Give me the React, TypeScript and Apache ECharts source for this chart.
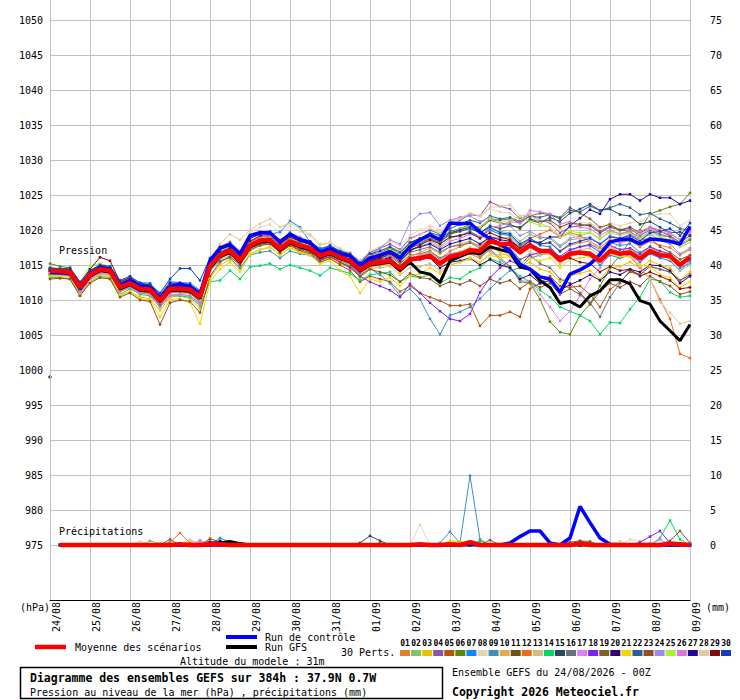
import React, { useEffect, useRef } from "react";
import * as echarts from "echarts";

const STEP_H = 6;
const dayLabels = ["24/08","25/08","26/08","27/08","28/08","29/08","30/08","31/08","01/09","02/09","03/09","04/09","05/09","06/09","07/09","08/09","09/09"];
const memberNames = ["01","02","03","04","05","06","07","08","09","10","11","12","13","14","15","16","17","18","19","20","21","22","23","24","25","26","27","28","29","30"];
const memberColors = ["#e67e30","#7dc46b","#f0c000","#8e54a8","#b5540c","#5a8a0a","#0a86ff","#e8d5b0","#3a90c0","#e8a850","#6b5218","#f26b1d","#d0c080","#00d860","#284860","#687078","#e080f0","#8020f0","#806030","#300070","#f0d800","#2a6098","#905020","#a088f0","#a8f030","#d878d8","#2008a0","#e0c8a0","#880808","#1040c0"];

// Sea-level pressure (hPa), one value every 6 h from 24/08 00Z to 09/09 00Z
const pMean = [1014.2,1014.1,1014.0,1011.8,1013.6,1014.4,1014.2,1011.8,1012.4,1011.6,1011.5,1009.9,1011.6,1011.6,1011.5,1010.4,1014.9,1016.4,1017.0,1015.6,1017.8,1018.5,1018.6,1017.3,1018.4,1017.8,1017.4,1016.3,1016.8,1016.1,1015.6,1014.3,1015.2,1015.4,1015.6,1014.5,1015.8,1016.0,1016.3,1015.2,1016.2,1016.5,1017.1,1017.0,1018.4,1018.0,1018.0,1016.8,1017.8,1017.0,1017.0,1015.7,1016.6,1016.8,1016.6,1015.6,1017.0,1016.6,1016.8,1015.9,1017.0,1016.4,1016.3,1015.0,1016.1];
const pControl = [1014.0,1013.9,1013.8,1011.6,1013.4,1014.6,1014.4,1012.0,1012.8,1012.0,1011.8,1010.2,1011.9,1012.2,1011.9,1010.8,1015.6,1017.4,1017.9,1016.6,1019.2,1019.6,1019.6,1018.3,1019.4,1018.6,1018.2,1016.8,1017.3,1016.6,1016.3,1014.9,1016.0,1016.4,1016.9,1016.0,1017.6,1018.6,1019.3,1018.6,1021.0,1020.9,1021.0,1019.7,1018.7,1018.0,1017.0,1015.1,1014.4,1013.3,1013.0,1011.1,1013.7,1014.3,1015.1,1016.5,1018.3,1018.6,1018.7,1018.0,1018.7,1018.6,1018.4,1018.0,1020.5];
const pGfs = [1014.0,1014.0,1013.9,1011.6,1013.4,1014.2,1014.0,1011.6,1012.2,1011.4,1011.3,1009.8,1011.4,1011.4,1011.3,1010.2,1014.6,1016.2,1016.8,1015.4,1017.6,1018.3,1018.4,1017.1,1018.2,1017.6,1017.2,1016.1,1016.6,1015.9,1015.4,1014.1,1015.0,1015.2,1015.4,1014.2,1015.4,1014.0,1013.7,1012.5,1015.6,1016.2,1016.8,1016.6,1017.6,1017.2,1016.8,1014.7,1014.4,1012.8,1011.8,1009.5,1009.8,1009.0,1010.6,1011.3,1012.9,1012.9,1012.3,1009.9,1009.4,1007.0,1005.6,1004.2,1006.5];

const p01 = [1013.9,1013.8,1013.9,1011.3,1013.2,1014.0,1013.9,1011.5,1012.0,1011.2,1011.0,1009.2,1011.0,1011.3,1011.0,1009.8,1014.3,1016.0,1016.8,1015.0,1017.4,1018.0,1018.3,1017.0,1018.0,1017.5,1017.0,1016.0,1016.4,1015.8,1015.2,1013.8,1014.8,1015.0,1015.3,1014.0,1015.6,1016.2,1016.8,1015.9,1017.0,1017.6,1018.2,1017.8,1019.0,1018.8,1018.9,1017.5,1018.5,1018.0,1018.2,1016.9,1017.8,1018.2,1018.4,1017.5,1018.6,1018.2,1018.5,1017.6,1018.4,1017.8,1017.5,1016.4,1017.2];
const p02 = [1013.6,1013.5,1013.4,1011.0,1012.9,1013.6,1013.5,1011.2,1011.8,1011.0,1010.9,1009.4,1011.1,1011.0,1010.9,1009.9,1014.2,1015.8,1016.3,1015.0,1017.0,1017.8,1018.0,1016.8,1017.8,1017.3,1017.1,1016.4,1017.2,1016.8,1016.4,1015.2,1016.2,1016.6,1017.0,1016.0,1017.4,1018.0,1018.5,1017.6,1018.8,1019.2,1019.6,1019.0,1020.2,1019.8,1019.6,1018.4,1019.4,1018.8,1019.0,1017.8,1018.8,1019.2,1019.6,1018.7,1019.8,1019.5,1019.8,1018.9,1019.8,1019.2,1019.0,1018.0,1018.8];
const p03 = [1013.4,1013.2,1013.0,1010.8,1012.6,1013.2,1013.0,1010.6,1011.2,1010.4,1010.2,1008.5,1010.4,1010.6,1010.2,1008.8,1013.2,1015.0,1015.8,1014.4,1016.6,1017.2,1017.5,1016.4,1017.5,1016.9,1016.6,1015.4,1016.0,1015.2,1014.8,1013.2,1014.4,1014.8,1015.2,1014.0,1015.6,1016.0,1016.6,1015.4,1016.4,1016.9,1017.5,1016.6,1017.8,1016.8,1016.2,1014.6,1015.4,1014.4,1014.0,1012.6,1013.4,1013.8,1014.2,1013.0,1014.6,1014.8,1015.4,1014.6,1015.6,1015.0,1014.6,1012.8,1014.0];
const p04 = [1014.5,1014.4,1014.3,1012.2,1014.0,1014.9,1014.6,1012.3,1012.9,1012.0,1011.9,1010.4,1012.0,1012.1,1011.9,1010.9,1015.4,1017.0,1017.6,1016.2,1018.4,1019.0,1019.2,1017.9,1019.0,1018.4,1018.0,1017.0,1017.6,1017.0,1016.6,1015.6,1016.8,1017.4,1018.0,1017.2,1018.8,1019.4,1020.0,1019.4,1020.6,1021.4,1022.2,1022.0,1024.0,1023.4,1023.0,1021.6,1022.2,1021.4,1021.0,1019.6,1020.4,1020.6,1020.8,1019.8,1020.6,1020.0,1020.2,1019.2,1020.0,1019.4,1019.0,1017.8,1018.6];
const p05 = [1013.9,1013.8,1013.6,1011.4,1013.2,1013.9,1013.8,1011.4,1012.0,1011.2,1011.0,1009.3,1011.2,1011.3,1011.0,1009.8,1014.5,1016.0,1016.6,1015.2,1017.4,1018.0,1018.2,1016.8,1017.8,1017.0,1016.6,1015.4,1015.9,1015.0,1014.2,1012.6,1013.4,1013.0,1012.6,1011.2,1012.0,1011.0,1010.4,1009.9,1009.2,1009.2,1009.4,1006.3,1007.8,1007.8,1008.3,1007.6,1011.6,1012.4,1013.4,1012.0,1011.8,1012.0,1010.8,1009.0,1011.5,1012.6,1014.0,1013.6,1014.8,1014.4,1014.0,1012.8,1013.6];
const p06 = [1015.2,1014.8,1014.6,1012.4,1014.2,1015.0,1014.8,1012.4,1013.0,1012.2,1012.0,1010.5,1012.2,1012.2,1012.0,1011.0,1015.4,1016.8,1017.2,1015.8,1018.0,1018.6,1018.8,1017.6,1018.6,1018.0,1017.8,1016.8,1017.4,1016.6,1016.0,1014.6,1015.4,1015.8,1016.2,1015.2,1016.4,1016.6,1017.0,1016.0,1016.6,1016.8,1017.0,1016.2,1017.2,1016.0,1014.8,1012.6,1012.4,1010.1,1006.9,1005.4,1005.1,1007.8,1009.4,1012.0,1014.6,1016.4,1018.4,1020.0,1022.3,1022.8,1023.3,1023.7,1025.3];
const p07 = [1014.6,1014.5,1014.4,1012.4,1014.2,1015.0,1014.8,1012.6,1013.2,1012.5,1012.4,1010.8,1012.6,1012.5,1012.4,1011.4,1015.8,1017.4,1018.0,1016.6,1019.0,1019.8,1019.4,1019.7,1021.3,1020.4,1018.3,1017.4,1017.6,1017.0,1016.6,1015.0,1016.0,1016.4,1017.0,1016.2,1017.6,1018.2,1018.8,1018.0,1019.0,1019.2,1019.8,1019.0,1020.0,1019.4,1019.2,1017.8,1018.6,1017.8,1017.6,1016.0,1016.8,1016.6,1016.2,1015.0,1016.4,1016.0,1016.4,1015.4,1016.6,1016.0,1015.6,1014.2,1015.6];
const p08 = [1014.0,1013.9,1013.8,1011.6,1013.6,1014.4,1014.3,1011.8,1012.6,1011.8,1011.8,1010.2,1011.8,1011.9,1011.8,1010.6,1015.8,1017.6,1018.4,1017.0,1019.6,1020.4,1020.8,1019.4,1020.6,1019.8,1019.2,1017.8,1018.2,1017.4,1016.8,1015.6,1017.0,1017.6,1018.4,1017.8,1019.2,1020.0,1020.6,1020.0,1021.2,1021.8,1022.4,1022.0,1023.0,1022.6,1022.4,1021.4,1022.0,1021.4,1021.2,1020.0,1020.8,1021.0,1021.0,1020.2,1021.0,1020.6,1021.0,1021.2,1022.0,1022.3,1022.3,1020.6,1021.4];
const p09 = [1014.2,1014.3,1014.0,1011.0,1012.8,1014.0,1014.2,1011.8,1012.4,1011.4,1011.4,1009.6,1011.6,1011.4,1011.2,1010.0,1014.2,1015.6,1016.0,1014.6,1016.4,1016.8,1017.0,1016.0,1017.0,1016.6,1016.4,1015.6,1016.2,1015.6,1015.0,1013.6,1014.5,1013.6,1012.4,1010.6,1011.6,1010.1,1007.3,1005.1,1007.8,1008.3,1009.0,1010.2,1011.6,1013.0,1014.2,1014.6,1016.0,1016.4,1016.8,1015.8,1017.0,1017.6,1018.0,1017.2,1018.2,1017.8,1018.0,1016.8,1017.6,1016.8,1016.0,1014.6,1015.2];
const p10 = [1013.8,1013.7,1013.6,1011.4,1013.3,1014.2,1014.0,1011.6,1012.2,1011.4,1011.2,1009.6,1011.2,1011.2,1011.0,1009.8,1014.6,1016.2,1016.9,1015.4,1017.6,1018.4,1018.5,1017.0,1018.2,1017.6,1017.2,1016.0,1016.6,1016.0,1015.4,1014.0,1015.0,1015.4,1015.8,1014.8,1016.2,1016.8,1017.4,1016.6,1017.6,1018.0,1018.4,1017.6,1018.8,1018.2,1018.0,1016.6,1017.6,1016.8,1016.6,1015.2,1016.2,1016.6,1016.8,1015.8,1017.2,1016.8,1017.2,1016.4,1017.4,1016.8,1016.6,1015.2,1016.4];
const p11 = [1014.4,1014.3,1014.2,1012.0,1013.9,1014.8,1014.6,1012.1,1012.8,1012.0,1011.9,1010.3,1012.0,1012.0,1011.9,1010.8,1015.2,1016.8,1017.4,1016.0,1018.2,1019.0,1019.1,1017.7,1018.8,1018.2,1017.8,1016.8,1017.4,1016.8,1016.4,1015.2,1016.4,1016.8,1017.4,1016.6,1018.2,1018.8,1019.4,1018.8,1019.8,1020.2,1020.8,1020.2,1021.4,1021.0,1020.8,1020.2,1021.6,1021.2,1021.4,1020.4,1021.0,1020.8,1020.6,1019.6,1020.4,1020.0,1020.4,1019.6,1020.4,1019.8,1019.2,1018.2,1019.2];
const p12 = [1014.0,1014.0,1013.8,1011.6,1013.4,1014.2,1014.0,1011.6,1012.2,1011.5,1011.4,1009.8,1011.4,1011.4,1011.2,1010.2,1014.8,1016.2,1016.8,1015.4,1017.6,1018.2,1018.4,1017.1,1018.2,1017.6,1017.2,1016.1,1016.6,1015.9,1015.3,1014.0,1014.8,1015.0,1015.4,1014.4,1015.6,1015.8,1016.2,1015.0,1015.8,1016.2,1016.6,1016.0,1017.2,1017.6,1018.4,1017.6,1018.8,1019.4,1020.0,1019.0,1019.6,1019.2,1018.4,1017.2,1017.6,1016.8,1016.2,1014.6,1013.0,1010.1,1007.3,1002.3,1001.7];
const p13 = [1013.7,1013.6,1013.5,1011.2,1013.0,1013.9,1013.8,1011.4,1012.0,1011.2,1011.1,1009.4,1011.1,1011.1,1010.9,1009.7,1014.4,1016.0,1016.7,1015.2,1017.4,1018.1,1018.3,1016.9,1018.0,1017.4,1017.0,1015.9,1016.4,1015.7,1015.1,1013.8,1014.6,1014.6,1014.8,1013.6,1014.6,1014.8,1015.2,1014.2,1015.0,1015.4,1015.8,1015.4,1016.6,1016.4,1016.6,1015.6,1016.8,1016.4,1016.6,1015.6,1016.8,1017.2,1017.4,1016.4,1017.6,1017.2,1017.4,1016.4,1017.2,1016.4,1015.8,1014.2,1015.0];
const p14 = [1013.2,1013.2,1013.0,1010.6,1012.6,1013.4,1013.2,1010.8,1011.6,1010.8,1010.6,1009.0,1010.6,1010.6,1010.4,1009.2,1012.6,1012.8,1014.2,1013.0,1014.7,1014.9,1015.2,1014.4,1015.0,1014.6,1014.2,1013.5,1014.6,1014.2,1013.8,1012.8,1013.6,1013.8,1014.0,1012.6,1013.4,1013.2,1013.6,1012.4,1013.2,1013.0,1014.0,1014.6,1015.9,1015.4,1014.6,1013.4,1012.6,1011.4,1010.4,1009.0,1008.4,1007.8,1007.0,1005.1,1006.8,1006.7,1008.7,1010.4,1013.0,1012.7,1011.1,1010.4,1010.6];
const p15 = [1014.6,1014.4,1014.2,1012.0,1013.8,1014.6,1014.5,1012.2,1012.8,1012.0,1011.9,1010.4,1012.2,1012.3,1012.0,1010.9,1015.3,1016.9,1017.5,1016.1,1018.3,1019.0,1019.2,1017.8,1019.0,1018.3,1017.9,1016.8,1017.4,1016.6,1016.1,1014.8,1016.0,1016.6,1017.2,1016.4,1017.8,1018.4,1019.0,1018.4,1019.4,1019.8,1020.2,1019.6,1020.6,1020.2,1020.6,1020.4,1021.4,1021.0,1021.8,1021.2,1022.4,1023.0,1023.7,1022.8,1023.0,1022.2,1022.0,1020.8,1021.2,1020.4,1019.6,1019.7,1019.2];
const p16 = [1014.0,1013.9,1013.8,1011.8,1013.6,1014.4,1014.2,1011.9,1012.6,1011.9,1011.8,1010.2,1011.9,1011.9,1011.8,1010.7,1015.0,1016.5,1017.0,1015.6,1017.8,1018.5,1018.7,1017.4,1018.6,1018.0,1017.6,1016.6,1017.2,1016.4,1016.0,1014.6,1015.6,1016.0,1016.4,1015.4,1016.8,1017.2,1017.6,1016.8,1017.6,1017.8,1018.2,1017.4,1018.4,1017.8,1017.4,1015.8,1016.4,1015.2,1014.6,1013.0,1012.4,1011.0,1009.6,1007.6,1010.4,1012.4,1014.2,1013.6,1014.8,1014.4,1014.0,1012.8,1013.6];
const p17 = [1013.6,1013.6,1013.4,1011.0,1012.8,1013.8,1013.6,1011.2,1011.8,1011.0,1010.8,1009.2,1010.8,1010.8,1010.6,1009.4,1014.6,1016.8,1018.0,1017.0,1019.4,1019.8,1019.8,1018.6,1019.6,1019.0,1018.4,1017.2,1017.4,1016.6,1015.8,1014.4,1015.0,1015.4,1015.8,1014.6,1016.0,1016.4,1016.8,1015.8,1016.6,1016.8,1017.2,1016.4,1017.0,1015.8,1014.6,1012.8,1012.6,1010.8,1009.0,1007.0,1008.4,1010.6,1013.0,1014.6,1017.0,1018.2,1019.0,1019.4,1020.2,1019.8,1019.4,1018.6,1019.6];
const p18 = [1014.2,1014.0,1013.9,1011.6,1013.4,1014.2,1014.0,1011.6,1012.2,1011.4,1011.3,1009.7,1011.4,1011.4,1011.3,1010.2,1014.7,1016.2,1016.8,1015.4,1017.6,1018.2,1018.3,1016.9,1018.0,1017.4,1017.0,1015.8,1016.2,1015.4,1014.6,1013.4,1012.6,1012.0,1011.4,1010.4,1012.3,1011.0,1009.6,1008.4,1007.3,1007.0,1008.0,1011.1,1013.2,1014.6,1015.6,1015.0,1016.4,1016.8,1017.2,1016.2,1017.2,1017.6,1017.8,1016.8,1017.8,1017.2,1017.4,1016.6,1017.6,1017.0,1016.6,1015.0,1016.0];
const p19 = [1013.6,1013.7,1013.5,1011.4,1013.2,1014.0,1013.9,1011.4,1012.0,1011.2,1011.1,1009.3,1011.1,1011.2,1011.0,1009.8,1014.5,1016.2,1016.9,1015.4,1017.6,1018.4,1018.6,1017.2,1018.4,1017.8,1017.4,1016.4,1016.9,1016.2,1015.6,1014.4,1015.6,1016.2,1016.8,1016.0,1017.4,1018.0,1018.8,1018.2,1019.4,1020.0,1020.6,1020.4,1021.6,1021.4,1021.6,1021.0,1022.0,1022.4,1022.2,1021.8,1023.2,1022.4,1021.6,1020.4,1020.8,1020.0,1019.8,1018.6,1018.8,1017.6,1016.8,1015.8,1016.4];
const p20 = [1014.4,1014.2,1014.1,1011.9,1013.7,1014.6,1014.4,1012.0,1012.7,1011.9,1011.8,1010.2,1011.9,1012.0,1011.8,1010.7,1015.1,1016.6,1017.2,1015.8,1018.0,1018.6,1018.8,1017.5,1018.6,1018.0,1017.6,1016.5,1017.0,1016.3,1015.8,1014.5,1015.6,1015.8,1016.0,1014.8,1016.0,1015.8,1016.0,1014.6,1015.4,1015.6,1016.0,1015.0,1015.8,1015.0,1014.6,1013.0,1013.6,1012.4,1012.8,1011.4,1012.2,1012.8,1013.6,1012.8,1014.0,1013.6,1014.4,1014.0,1015.0,1014.9,1014.2,1012.4,1013.4];
const p21 = [1013.4,1013.4,1013.2,1010.8,1012.6,1013.4,1013.4,1010.8,1011.2,1010.2,1010.0,1007.6,1010.0,1010.2,1009.6,1006.6,1012.6,1014.4,1015.4,1014.0,1016.4,1017.2,1017.6,1016.4,1017.4,1016.8,1016.4,1015.2,1015.6,1014.2,1013.4,1011.0,1013.0,1012.6,1013.2,1012.0,1013.4,1013.8,1014.6,1013.8,1015.0,1015.4,1016.0,1015.4,1016.4,1016.0,1016.2,1015.2,1016.0,1015.6,1016.0,1014.6,1015.8,1016.0,1016.2,1015.4,1016.6,1016.2,1016.2,1015.0,1014.8,1013.6,1013.2,1011.8,1012.6];
const p22 = [1014.0,1014.2,1014.0,1011.6,1013.4,1014.2,1014.1,1011.7,1012.4,1011.6,1011.5,1009.8,1011.5,1011.6,1011.4,1010.2,1014.6,1016.2,1016.8,1015.4,1017.4,1018.0,1018.2,1017.0,1018.0,1017.4,1017.0,1016.0,1016.6,1015.9,1015.4,1013.9,1015.8,1016.4,1017.0,1016.4,1018.0,1018.8,1019.6,1019.2,1020.2,1020.8,1021.4,1021.0,1022.0,1021.6,1021.8,1021.2,1022.0,1021.8,1022.2,1021.6,1022.8,1022.6,1023.4,1022.8,1023.2,1023.7,1023.2,1022.2,1022.4,1021.6,1021.0,1020.2,1020.0];
const p23 = [1013.0,1013.1,1013.0,1010.6,1012.4,1013.2,1013.0,1010.4,1011.0,1010.0,1009.8,1006.5,1009.6,1010.0,1009.8,1008.2,1013.4,1015.4,1016.2,1015.0,1017.2,1017.8,1018.0,1016.8,1017.8,1017.2,1016.8,1015.6,1016.2,1015.4,1014.8,1013.4,1014.4,1014.0,1013.6,1012.6,1013.8,1013.2,1013.0,1012.0,1012.6,1012.2,1012.8,1012.0,1013.0,1012.4,1012.8,1011.6,1012.6,1011.8,1012.4,1010.8,1011.6,1010.8,1009.4,1011.2,1012.4,1011.8,1012.6,1012.0,1013.4,1012.6,1012.0,1010.8,1011.2];
const p24 = [1014.2,1014.0,1014.0,1011.8,1013.6,1014.4,1014.2,1011.8,1012.4,1011.6,1011.5,1010.0,1011.6,1011.6,1011.6,1010.6,1015.0,1016.6,1017.2,1015.8,1018.0,1018.6,1018.8,1017.4,1018.6,1017.9,1017.5,1016.5,1017.0,1016.4,1016.0,1014.8,1016.4,1017.4,1018.6,1018.0,1021.1,1022.3,1022.5,1020.6,1021.4,1021.8,1022.0,1021.2,1021.8,1021.0,1020.6,1019.2,1019.8,1019.0,1018.8,1017.6,1018.6,1018.8,1019.0,1018.0,1019.2,1018.8,1019.4,1018.6,1019.4,1018.6,1018.0,1016.6,1017.4];
const p25 = [1014.4,1014.3,1014.3,1012.3,1014.9,1015.2,1014.8,1012.2,1012.8,1012.0,1011.9,1010.4,1012.0,1012.1,1011.8,1010.8,1015.4,1017.0,1017.6,1016.0,1018.2,1018.8,1019.0,1017.7,1018.8,1018.2,1017.8,1016.8,1017.3,1016.6,1016.1,1014.9,1016.2,1016.6,1017.2,1016.6,1018.0,1018.4,1019.0,1018.6,1019.6,1020.2,1020.6,1020.4,1021.6,1021.0,1021.4,1022.0,1021.2,1020.6,1020.4,1019.2,1019.8,1019.6,1019.6,1018.8,1019.6,1019.2,1019.6,1018.8,1019.6,1019.0,1018.6,1017.6,1018.2];
const p26 = [1014.0,1013.9,1013.8,1011.2,1013.2,1014.0,1013.8,1011.2,1011.8,1011.0,1010.8,1009.0,1010.6,1010.8,1010.6,1009.6,1014.8,1016.8,1017.6,1016.2,1018.4,1019.0,1019.2,1017.8,1019.0,1018.2,1017.6,1016.2,1016.8,1016.0,1015.4,1014.0,1015.0,1015.6,1016.4,1015.6,1017.0,1017.6,1018.2,1017.4,1018.4,1018.8,1019.4,1019.0,1020.4,1020.6,1021.2,1021.0,1022.8,1022.6,1022.3,1020.8,1021.2,1020.4,1020.2,1019.2,1020.0,1019.4,1019.8,1019.8,1020.4,1020.0,1019.6,1018.6,1019.8];
const p27 = [1014.2,1014.2,1014.2,1012.2,1014.0,1014.8,1014.6,1012.4,1013.0,1012.2,1012.2,1010.6,1012.4,1012.4,1012.2,1011.2,1015.6,1017.2,1017.8,1016.4,1018.8,1019.4,1019.6,1018.2,1019.4,1018.6,1018.2,1017.0,1017.6,1016.8,1016.4,1015.0,1015.8,1016.2,1016.8,1016.0,1017.2,1017.6,1018.0,1017.2,1018.0,1018.4,1018.8,1018.0,1019.0,1018.6,1018.4,1017.4,1018.4,1018.2,1019.0,1019.0,1020.6,1021.7,1022.9,1022.3,1024.4,1025.1,1025.1,1024.2,1025.1,1024.6,1024.6,1023.7,1024.2];
const p28 = [1014.0,1014.0,1013.8,1011.6,1013.4,1014.2,1014.0,1011.6,1012.4,1011.8,1011.6,1010.0,1011.6,1011.6,1011.4,1010.0,1015.8,1018.0,1019.4,1018.6,1020.0,1020.9,1021.6,1020.4,1021.0,1020.2,1019.4,1018.0,1018.2,1017.2,1016.6,1015.0,1016.2,1016.8,1017.6,1017.0,1018.6,1019.4,1020.2,1019.6,1021.0,1021.6,1022.4,1022.0,1023.2,1023.4,1023.6,1022.0,1022.2,1021.0,1020.4,1019.0,1019.4,1018.8,1018.4,1017.2,1017.6,1016.8,1016.4,1014.8,1013.0,1009.7,1008.2,1006.6,1007.0];
const p29 = [1014.2,1014.4,1014.4,1012.4,1014.4,1016.1,1015.6,1012.6,1013.2,1012.2,1012.0,1010.2,1011.8,1012.0,1011.8,1010.6,1015.2,1016.8,1017.4,1016.2,1018.4,1019.2,1019.4,1018.0,1019.0,1018.4,1018.0,1016.8,1017.2,1016.4,1015.8,1014.6,1015.6,1016.0,1016.6,1015.6,1017.0,1017.8,1018.6,1018.0,1019.0,1019.2,1019.6,1018.8,1019.6,1019.0,1018.6,1017.4,1018.0,1017.2,1017.0,1015.6,1016.0,1015.4,1015.2,1014.0,1014.8,1014.2,1014.4,1013.4,1014.0,1013.4,1012.8,1011.6,1011.8];
const p30 = [1014.4,1014.4,1014.6,1012.6,1014.2,1015.0,1014.8,1012.8,1013.4,1012.4,1012.2,1011.0,1013.0,1014.5,1014.5,1012.8,1016.0,1017.6,1018.2,1016.8,1019.0,1019.6,1019.8,1018.4,1019.6,1018.8,1018.4,1017.2,1017.8,1017.0,1016.6,1015.4,1016.6,1017.0,1017.6,1016.8,1018.2,1018.8,1019.4,1018.6,1019.6,1020.0,1020.4,1019.6,1020.4,1019.6,1019.4,1018.0,1018.8,1018.0,1018.2,1017.0,1018.0,1018.4,1018.8,1018.0,1019.0,1018.8,1019.2,1018.4,1019.6,1019.8,1020.2,1019.2,1021.0];

// 6-hour precipitation (mm), from 24/08 06Z to 09/09 00Z
const rMean = [0,0,0,0,0,0,0,0,0,0,0,0,0.1,0,0,0.1, 0.1,0,0,0,0,0,0,0,0,0,0,0,0,0,0,0, 0,0,0,0,0.1,0,0,0.1,0,0.4,0,0,0,0,0,0, 0,0,0,0,0.2,0,0,0,0,0,0,0,0,0.2,0.1,0];
const rControl = [0,0,0,0,0,0,0,0,0,0,0,0,0,0,0,0, 0,0,0,0,0,0,0,0,0,0,0,0,0,0,0,0, 0,0,0,0,0,0,0,0,0,0.2,0,0,0,0.3,1.2,2.0, 2.0,0.3,0,1.0,5.5,3.2,1.0,0.1,0,0,0,0,0,0,0,0];
const rGfs = [0,0,0,0,0,0,0,0,0,0,0,0,0,0,0,0, 0.3,0.5,0.2,0,0,0,0,0,0,0,0,0,0,0,0,0, 0,0,0,0,0,0,0,0,0,0,0,0,0,0,0,0, 0,0,0,0,0,0,0,0,0,0,0,0,0,0,0,0];
const r01 = [0,0,0,0,0,0,0,0,0,0,0,0,0,0.3,0.2,0, 0,0,0,0,0,0,0,0,0,0,0,0,0,0,0,0, 0,0,0,0,0,0,0,0,0,0,0,0,0,0,0,0, 0,0,0,0,0,0,0,0,0,0,0,0,0,0,0,0];
const r02 = [0,0,0,0,0,0,0,0,0,0.6,0.2,0,0,0,0,0, 0,0,0,0,0,0,0,0,0,0,0,0,0,0,0,0, 0,0,0,0,0,0,0,0,0,0,0,0,0,0,0,0, 0,0,0,0,0,0,0,0,0,0,0,0,0,0,0,0];
const r03 = [0,0,0,0,0,0,0,0,0,0,0,0,0,0,0,0, 0,0,0,0,0,0,0,0,0,0,0,0,0,0,0,0, 0,0,0,0,0,0,0,0.6,0.5,0.2,0,0,0,0,0,0, 0,0,0,0,0,0,0,0,0,0,0,0,0,0,0,0];
const r04 = [0,0,0,0,0,0,0,0,0,0,0,0,0,0,0,0.3, 0,0,0,0,0,0,0,0,0,0,0,0,0,0,0,0, 0,0,0,0,0,0,0,0,0,0,0,0,0,0,0,0, 0,0,0,0,0,0,0,0,0,0,0,0,0,0,0,0];
const r05 = [0,0,0,0,0,0,0,0,0,0,0,0,0.2,0,0,0, 0,0,0,0,0,0,0,0,0,0,0,0,0,0,0,0, 0,0,0,0,0,0,0,0,0,0,0.2,0,0,0,0,0, 0,0,0,0,0,0,0,0,0,0,0,0,0,0,0,0];
const r06 = [0,0,0,0,0,0,0,0,0,0,0,0,0,0,0,0, 0.4,0,0,0,0,0,0,0,0,0,0,0,0,0,0,0, 0,0,0,0,0,0,0,0,0,0,0,0,0,0,0,0, 0,0,0,0.3,0,0,0,0,0,0,0,0,0,0,0,0];
const r07 = [0,0,0,0,0,0,0,0,0,0,0,0,0,0,0,0, 0.5,0.3,0,0,0,0,0,0,0,0,0,0,0,0,0,0, 0,0,0,0,0,0,0,0,0,0,0,0,0,0,0,0, 0,0,0,0,0,0,0,0,0,0,0,0,0,0,0,0];
const r08 = [0,0,0,0,0,0,0,0,0.5,0,0,0,0,0,0,0, 0,0,0,0,0,0,0,0,0,0,0,0,0,0,0,0, 0,0,0,0,2.9,0,0,0,0,0,0,0,0,0,0,0, 0,0,0,0,0,0,0,0,0,0.8,0.6,0,0,0,0,0];
const r09 = [0,0,0,0,0,0,0,0,0,0,0,0,0,0,0,0, 1.0,0.4,0,0,0,0,0,0,0,0,0,0,0,0,0,0, 0,0,0,0,0,0,0.3,1.9,0.3,9.9,0.8,0,0,0,0,0, 0,0,0,0,0,0,0,0,0,0,0,0,0,0,0,0];
const r10 = [0,0,0,0,0,0,0,0,0,0,0,0,0,0.4,0,0, 0,0,0,0,0,0,0,0,0,0,0,0,0,0,0,0, 0,0,0,0,0,0,0,0,0,0,0,0,0,0,0,0, 0,0,0,0,0,0,0,0,0,0,0,0,0,0,0,0];
const r11 = [0,0,0,0,0,0,0,0,0,0,0,0,0,0,0,0.6, 0,0,0,0,0,0,0,0,0,0,0,0,0,0,0,0, 0,0,0,0,0,0,0,0,0,0,0,0,0,0,0,0, 0,0,0,0,0,0,0,0,0,0,0,0,0,0,0,0];
const r12 = [0,0,0,0,0,0,0,0,0,0,0,0.4,1.7,0.3,0,0, 0,0,0,0,0,0,0,0,0,0,0,0,0,0,0,0, 0,0,0,0,0,0,0,0,0,0,0,0,0,0,0,0, 0,0,0,0,0,0,0,0,0,0,0,0,0,0,0,0];
const r13 = [0,0,0,0,0,0,0,0,0,0,0,0,0,0.7,0.2,0, 0,0,0,0,0,0,0,0,0,0,0,0,0,0,0,0, 0,0,0,0,0,0,0,0,0,0,0,0,0,0,0,0, 0,0,0,0,0,0,0,0,0,0,0,0,0,0,0,0];
const r14 = [0,0,0,0,0,0,0,0,0,0,0,0,0,0,0,0, 0,0,0,0,0,0,0,0,0,0,0,0,0,0,0,0, 0,0,0,0,0,0,0,0,0,0,0.6,0,0,0,0,0, 0,0,0,0,0,0,0,0,0,0,0,0,1.0,3.5,0.8,0];
const r15 = [0,0,0,0,0,0,0,0,0,0,0,0,0,0,0,0, 0,0,0,0,0,0,0,0,0,0,0,0,0,0,0.3,1.3, 0.6,0,0,0,0,0,0,0,0,0,0,0,0,0,0,0, 0,0,0,0,0,0,0,0,0,0,0,0,0,0,0,0];
const r16 = [0,0,0,0,0,0,0,0,0,0,0,0,0,0,0,0, 0,0,0,0,0,0,0,0,0,0,0,0,0,0,0,0, 0.3,0,0,0,0,0,0,0,0,0,0,0,0,0,0,0, 0,0,0,0,0,0,0,0,0,0,0,0,0,0,0,0];
const r17 = [0,0,0,0,0,0,0,0,0,0,0,0,0,0,0.7,0, 0,0,0,0,0,0,0,0,0,0,0,0,0,0,0,0, 0,0,0,0,0,0,0,0,0,0,0,0,0,0,0,0, 0,0,0,0,0,0,0,0,0,0,0,0.3,0,0,0,0];
const r18 = [0,0,0,0,0,0,0,0,0,0,0,0,0,0,0,0, 0,0,0,0,0,0,0,0,0,0,0,0,0,0,0,0, 0,0,0,0,0,0,0,0,0,0,0,0,0,0,0,0, 0,0,0,0,0,0,0,0,0,0,0.4,1.2,2.0,0.3,0,0];
const r19 = [0,0,0,0,0,0,0,0,0,0,0,0.8,0,0,0,0, 0,0,0,0,0,0,0,0,0,0,0,0,0,0,0,0, 0,0,0,0,0,0,0,0,0,0,0,0.7,0,0,0,0, 0,0,0,0.4,0.6,0.5,0,0,0,0,0,0,0,0.6,2.0,0.3];
const r20 = [0,0,0,0,0,0,0,0,0,0,0,0,0,0,0,0.4, 0.5,0,0,0,0,0,0,0,0,0,0,0,0,0,0,0, 0,0,0,0,0,0,0,0,0,0,0,0,0,0,0,0, 0,0,0,0,0,0,0,0,0,0,0,0,0,0,0,0];
const r21 = [0,0,0,0,0,0,0,0,0,0,0,0,0,0,0,0, 0,0,0,0,0,0,0,0,0,0,0,0,0,0,0,0, 0,0,0,0,0,0,0,0.4,0.3,0,0,0,0,0,0,0, 0,0,0,0,0,0,0,0,0,0,0,0,0,0,0,0];
const r22 = [0,0,0,0,0,0,0,0,0,0,0,0,0,0,0,0, 0,0.3,0,0,0,0,0,0,0,0,0,0,0,0,0,0, 0,0,0,0,0,0,0,0,0,0,0,0,0,0,0,0, 0,0,0,0,0,0,0,0,0,0,0,0,0,0,0,0];
const r23 = [0,0,0,0,0,0,0,0,0,0,0,0,0,0,0,0.9, 0.4,0,0,0,0,0,0,0,0,0,0,0,0,0,0,0, 0,0,0,0,0,0,0,0,0,0,0,0,0,0,0,0, 0,0,0,0,0.5,0.3,0,0,0,0,0,0,0,0,0,0];
const r24 = [0,0,0,0,0,0,0,0,0,0,0,0,0,0,0,0.5, 0,0,0,0,0,0,0,0,0,0,0,0,0,0,0,0, 0,0,0,0,0,0,0,0,0.2,0,0,0,0,0,0,0, 0,0,0,0,0,0,0,0,0,0,0,0,0,0,0,0];
const r25 = [0,0,0,0,0,0,0,0,0,0,0.3,0,0,0,0,0, 0,0,0,0,0,0,0,0,0,0,0,0,0,0,0,0, 0,0,0,0,0,0,0,0,0,0,0,0,0,0,0,0, 0,0,0,0,0,0,0,0,0,0,0,0,0,0,0,0];
const r26 = [0,0,0,0,0,0,0,0,0,0,0,0,0,0,0.5,0, 0,0,0,0,0,0,0,0,0,0,0,0,0,0,0,0, 0,0,0,0,0,0,0,0,0,0,0,0,0,0,0,0, 0,0,0,0,0,0,0,0,0,0,0,0,0.8,0,0,0];
const r27 = [0,0,0,0,0,0,0,0,0,0,0,0,0,0,0,0, 0.6,0,0,0,0,0,0,0,0,0,0,0,0,0,0,0, 0,0,0,0,0,0,0,0,0,0,0,0,0,0,0,0, 0,0,0,0,0,0,0,0,0,0,0,0,0,0,0,0];
const r28 = [0,0,0,0,0,0,0,0,0,0,0,0,0,0.7,0,0, 0,0,0,0,0,0,0,0,0,0,0,0,0,0,0,0, 0,0,0,0,0,0,0,0,0,0,0,0,0,0,0,0, 0,0,0,0,0,0,0,0,0.5,0,0,0,0,0,0,0];
const r29 = [0,0,0,0,0,0,0,0,0,0,0,0,0,0,0,0.4, 0,0,0,0,0,0,0,0,0,0,0,0,0,0,0,0, 0,0,0,0,0,0,0,0,0,0,0,0,0,0,0,0, 0,0,0,0,0,0,0,0,0,0,0,0,0,0,0,0];
const r30 = [0,0,0,0,0,0,0,0,0,0,0,0,0,0,0,0, 0,0.4,0,0,0,0,0,0,0,0,0,0,0,0,0,0, 0,0,0,0,0,0,0,0,0,0.3,0,0,0,0,0,0, 0,0,0,0,0,0,0,0,0,0,0,0,0,0,0,0];

const pressureMembers = [p01,p02,p03,p04,p05,p06,p07,p08,p09,p10,p11,p12,p13,p14,p15,p16,p17,p18,p19,p20,p21,p22,p23,p24,p25,p26,p27,p28,p29,p30];
const precipMembers = [r01,r02,r03,r04,r05,r06,r07,r08,r09,r10,r11,r12,r13,r14,r15,r16,r17,r18,r19,r20,r21,r22,r23,r24,r25,r26,r27,r28,r29,r30];

const FONT = '"DejaVu Sans Mono", monospace';
const GRID_GRAY = "#c0c0c0";

export default function App() {
  const ref = useRef<HTMLDivElement>(null);
  useEffect(() => {
    document.body.style.margin = "0";
    const chart = echarts.init(ref.current!, null, { renderer: "svg" });
    const toPts = (arr: number[], start: number) => arr.map((v, i) => [(i + start) * STEP_H, v]);

    const series: any[] = [];
    pressureMembers.forEach((arr, k) => {
      series.push({
        type: "line", xAxisIndex: 1, yAxisIndex: 1, data: toPts(arr, 0),
        symbol: "rect", symbolSize: 2.5, showSymbol: true, clip: false,
        lineStyle: { width: 1, color: memberColors[k] }, itemStyle: { color: memberColors[k] },
        silent: true, z: 2,
      });
    });
    precipMembers.forEach((arr, k) => {
      series.push({
        type: "line", xAxisIndex: 1, yAxisIndex: 2, data: toPts(arr, 1),
        symbol: "rect", symbolSize: 2.5, showSymbol: true, clip: false,
        lineStyle: { width: 1, color: memberColors[k] }, itemStyle: { color: memberColors[k] },
        silent: true, z: 2,
      });
    });
    const thick = (data: number[], start: number, yIdx: number, color: string, width: number, z: number) => ({
      type: "line", xAxisIndex: 1, yAxisIndex: yIdx, data: toPts(data, start), clip: false,
      symbol: "none", lineStyle: { width, color }, itemStyle: { color }, silent: true, z,
    });
    series.push(thick(pGfs, 0, 1, "#000000", 3, 3));
    series.push(thick(rGfs, 1, 2, "#000000", 3, 3));
    series.push(thick(pControl, 0, 1, "#0000ff", 3.5, 4));
    series.push(thick(rControl, 1, 2, "#0000ff", 3.5, 4));
    series.push(thick(pMean, 0, 1, "#ff0000", 4.5, 5));
    series.push(thick(rMean, 1, 2, "#ff0000", 4.5, 5));

    const txt = (text: string, x: number, y: number, font: string, extra: any = {}) => ({
      type: "text", x, y, silent: true, z: 10,
      style: { text, font, fill: "#000", textVerticalAlign: "middle", verticalAlign: "middle", ...extra },
    });
    const graphics: any[] = [
      txt("(hPa)", 20, 607, `10px ${FONT}`),
      txt("(mm)", 706, 607, `10px ${FONT}`),
      txt("Pression", 59, 250, `10px ${FONT}`),
      txt("Précipitations", 59, 531, `10px ${FONT}`),
      { type: "line", silent: true, shape: { x1: 48, y1: 377, x2: 52, y2: 377 }, style: { stroke: "#000", lineWidth: 1 } },
      { type: "line", silent: true, shape: { x1: 50, y1: 375, x2: 50, y2: 379 }, style: { stroke: "#000", lineWidth: 1 } },
      { type: "line", silent: true, shape: { x1: 35, y1: 647, x2: 66, y2: 647 }, style: { stroke: "#ff0000", lineWidth: 4.5 } },
      txt("Moyenne des scénarios", 75, 647, `10px ${FONT}`),
      { type: "line", silent: true, shape: { x1: 226, y1: 637, x2: 257, y2: 637 }, style: { stroke: "#0000ff", lineWidth: 4 } },
      txt("Run de contrôle", 265, 637, `10px ${FONT}`),
      { type: "line", silent: true, shape: { x1: 226, y1: 647, x2: 257, y2: 647 }, style: { stroke: "#000000", lineWidth: 4 } },
      txt("Run GFS", 265, 647, `10px ${FONT}`),
      txt("Altitude du modele : 31m", 180, 661, `10px ${FONT}`),
      txt("30 Perts.", 341, 652, `10px ${FONT}`),
      { type: "rect", silent: true, shape: { x: 20.5, y: 667.5, width: 422, height: 31 }, style: { fill: "#fff", stroke: "#000", lineWidth: 1.5 } },
      txt("Diagramme des ensembles GEFS sur 384h : 37.9N 0.7W", 30, 678, `bold 11.5px ${FONT}`),
      txt("Pression au niveau de la mer (hPa) , précipitations (mm)", 30, 692, `10px ${FONT}`),
      txt("Ensemble GEFS du 24/08/2026 - 00Z", 452, 672, `10px ${FONT}`),
      txt("Copyright 2026 Meteociel.fr", 452, 692, `bold 11.5px ${FONT}`),
    ];
    memberNames.forEach((name, k) => {
      const x = 400 + k * 11.07;
      graphics.push(txt(name, x + 5, 643, `bold 8px ${FONT}`, { textAlign: "center", align: "center" }));
      graphics.push({ type: "rect", silent: true, shape: { x, y: 650, width: 10, height: 6 }, style: { fill: memberColors[k] } });
    });

    const hiddenAxis = {
      show: false, axisLine: { show: false }, axisTick: { show: false },
      axisLabel: { show: false }, splitLine: { show: false },
    };
    const option: any = {
      animation: false,
      backgroundColor: "#ffffff",
      grid: [
        { left: 50, top: 0, width: 640, height: 600, show: false },
        { left: 50, top: 20, width: 640, height: 525, show: false },
      ],
      xAxis: [
        {
          gridIndex: 0, type: "value", min: 0, max: 384, interval: 24,
          axisLine: { show: true, onZero: false, lineStyle: { color: "#000", width: 1 } },
          axisTick: { show: false },
          splitLine: { show: true, lineStyle: { color: GRID_GRAY, width: 1 } },
          axisLabel: {
            formatter: (v: number) => dayLabels[Math.round(v / 24)] ?? "",
            rotate: 90, margin: 2, fontFamily: FONT, fontSize: 10, color: "#000",
            verticalAlign: "top", lineHeight: 13, showMinLabel: true, showMaxLabel: true,
          },
        },
        { gridIndex: 1, type: "value", min: 0, max: 384, ...hiddenAxis },
      ],
      yAxis: [
        { gridIndex: 0, type: "value", min: 0, max: 1, ...hiddenAxis },
        {
          gridIndex: 1, type: "value", min: 975, max: 1050, interval: 5, position: "left",
          axisLine: { show: false }, axisTick: { show: false },
          splitLine: { show: true, lineStyle: { color: GRID_GRAY, width: 1 } },
          axisLabel: { formatter: (v: number) => String(v), fontFamily: FONT, fontSize: 10, color: "#000", margin: 7, padding: [5, 0, 0, 0] },
        },
        {
          gridIndex: 1, type: "value", min: 0, max: 75, interval: 5, position: "right",
          axisLine: { show: false }, axisTick: { show: false }, splitLine: { show: false },
          axisLabel: { formatter: (v: number) => String(v), fontFamily: FONT, fontSize: 10, color: "#000", margin: 20, padding: [5, 0, 0, 0] },
        },
      ],
      series,
      graphic: graphics,
    };
    chart.setOption(option);
    return () => chart.dispose();
  }, []);
  return <div ref={ref} style={{ width: 740, height: 700 }} />;
}
